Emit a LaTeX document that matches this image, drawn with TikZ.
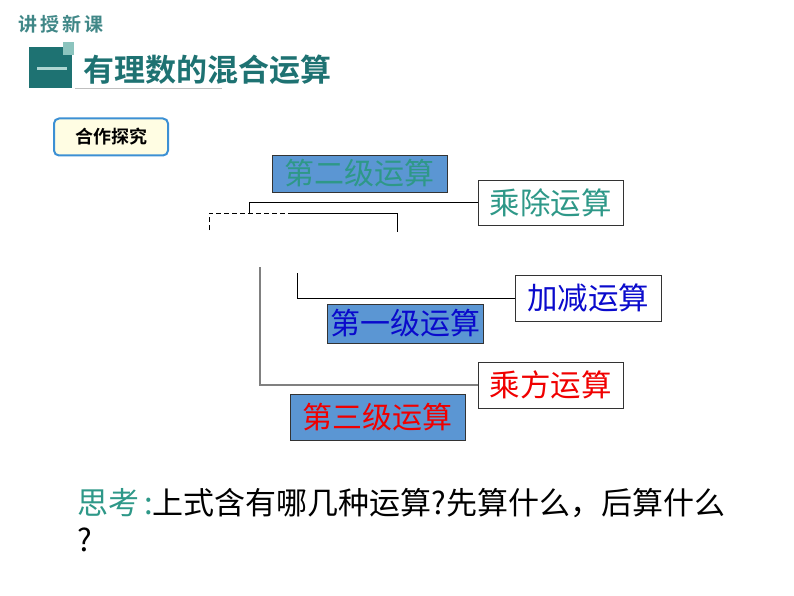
\documentclass[tikz,border=0pt]{standalone}
\usepackage{fontspec}
\setmainfont{Noto Sans CJK SC}
\newfontfamily\cjk{Noto Sans CJK SC}
\newfontfamily\cjkb{Noto Sans CJK SC Bold}
\definecolor{tealdark}{HTML}{1E7272}
\definecolor{teallight}{HTML}{8CC4BE}
\definecolor{tealtxt}{HTML}{2E9888}
\definecolor{levelfill}{HTML}{5B96D3}
\definecolor{tipborder}{HTML}{3C90D4}
\definecolor{tipfill}{HTML}{FFFDE3}
\definecolor{bluetxt}{HTML}{0A0ACC}
\definecolor{redtxt}{HTML}{F00000}
\tikzset{
  levelbox/.style={draw=black!80, line width=0.8pt, fill=levelfill, inner sep=0pt, font=\cjk\fontsize{30}{32}\selectfont},
  opbox/.style={draw=black!80, line width=1pt, fill=white, inner sep=0pt, font=\cjk\fontsize{30.5}{32}\selectfont},
  brk/.style={line width=1pt, black},
}
\begin{document}
\begin{tikzpicture}[x=1pt,y=-1pt]
\useasboundingbox (0,0) rectangle (794,596);
% header
\node[anchor=west, text=tealdark!85, inner sep=0pt, font=\cjkb\fontsize{19}{20}\selectfont] (hdr) at (18,24) {讲\,授\,新\,课};
\fill[tealdark] (29,47) rectangle (72,88);
\fill[teallight] (63,42) rectangle (74,55);
\fill[teallight!70] (37,67) rectangle (67,70);
\draw[black!25, line width=1pt] (75,89) -- (222,89);
\node[anchor=west, text=tealdark, inner sep=0pt, font=\cjkb\fontsize{31}{33}\selectfont] (title) at (83,70) {有理数的混合运算};
% tip box
\node[draw=tipborder, line width=2pt, fill=tipfill, rounded corners=5pt, minimum width=114pt, minimum height=37pt, inner sep=0pt, font=\cjkb\fontsize{18}{20}\selectfont] (tip) at (111,137) {合作探究};
% level boxes
\node[levelbox, text=tealtxt, minimum width=175pt, minimum height=37pt] (l2) at (359.5,173.5) {第二级运算};
\node[levelbox, text=bluetxt, minimum width=156pt, minimum height=39pt] (l1) at (405,323.5) {第一级运算};
\node[levelbox, text=redtxt, minimum width=175pt, minimum height=46pt] (l3) at (377.5,417) {第三级运算};
% operation boxes
\node[opbox, text=tealtxt, minimum width=145pt, minimum height=45pt] (md) at (550.5,202.5) {乘除运算};
\node[opbox, text=bluetxt, minimum width=146pt, minimum height=46pt] (as) at (588,298) {加减运算};
\node[opbox, text=redtxt, minimum width=145pt, minimum height=46pt] (pw) at (550.5,385) {乘方运算};
% brackets
\coordinate (a1) at (249,214);
\coordinate (a2) at (249,202);
\draw[brk] (a1) -- (a2) -- (md.west |- a2);
\coordinate (b0) at (209,230);
\coordinate (b1) at (209,213);
\coordinate (b2) at (290,213);
\coordinate (b3) at (397,213);
\coordinate (b4) at (397,232);
\draw[brk, dashed, dash pattern=on 5pt off 3pt] (b0) -- (b1) -- (b2);
\draw[brk] (b2) -- (b3) -- (b4);
\coordinate (c1) at (297,273);
\coordinate (c2) at (297,298);
\draw[brk] (c1) -- (c2) -- (as.west);
\coordinate (d1) at (260,267);
\coordinate (d2) at (260,385);
\draw[line width=1.5pt, black!50] (d1) -- (d2) -- (pw.west);
% question
\node[anchor=west, inner sep=0pt, font=\cjk\fontsize{31}{33}\selectfont] (q1) at (77,503) {\textcolor{tealtxt}{思考\,:}上式含有哪几种运算?先算什么，后算什么};
\node[anchor=west, inner sep=0pt, font=\cjk\fontsize{31}{33}\selectfont] (q2) at (77,540) {?};
\end{tikzpicture}
\end{document}
